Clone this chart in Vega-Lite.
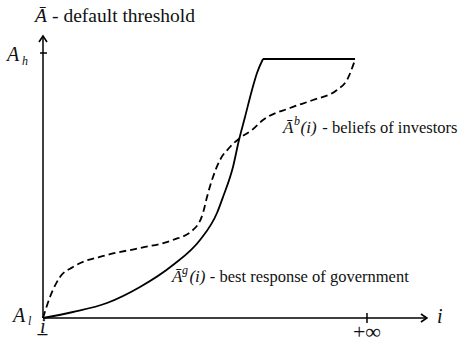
{
  "$schema": "https://vega.github.io/schema/vega-lite/v6.json",
  "width": 459,
  "height": 346,
  "autosize": {"type": "none"},
  "padding": 0,
  "background": "white",
  "config": {
    "view": {"stroke": null}
  },
  "datasets": {
    "government": [
      {"i": 0.0, "A": 0.0, "part": "rise"},
      {"i": 0.0926, "A": 0.0226, "part": "rise"},
      {"i": 0.1975, "A": 0.0566, "part": "rise"},
      {"i": 0.2994, "A": 0.117, "part": "rise"},
      {"i": 0.4012, "A": 0.2, "part": "rise"},
      {"i": 0.4846, "A": 0.2943, "part": "rise"},
      {"i": 0.537, "A": 0.3962, "part": "rise"},
      {"i": 0.5556, "A": 0.4566, "part": "rise"},
      {"i": 0.5864, "A": 0.5698, "part": "rise"},
      {"i": 0.6049, "A": 0.6717, "part": "rise"},
      {"i": 0.6235, "A": 0.7585, "part": "rise"},
      {"i": 0.6451, "A": 0.8604, "part": "rise"},
      {"i": 0.6605, "A": 0.9245, "part": "rise"},
      {"i": 0.679, "A": 0.9774, "part": "rise"},
      {"i": 0.679, "A": 0.9774, "part": "flat"},
      {"i": 0.963, "A": 0.9774, "part": "flat"}
    ],
    "investors": [
      {"i": 0.0, "A": 0.0},
      {"i": 0.0216, "A": 0.0792},
      {"i": 0.0525, "A": 0.1547},
      {"i": 0.0926, "A": 0.1925},
      {"i": 0.1975, "A": 0.2377},
      {"i": 0.2994, "A": 0.2642},
      {"i": 0.4012, "A": 0.2943},
      {"i": 0.463, "A": 0.3321},
      {"i": 0.4938, "A": 0.3962},
      {"i": 0.5062, "A": 0.4566},
      {"i": 0.5247, "A": 0.5321},
      {"i": 0.5463, "A": 0.5962},
      {"i": 0.5772, "A": 0.6453},
      {"i": 0.608, "A": 0.6792},
      {"i": 0.6451, "A": 0.7094},
      {"i": 0.679, "A": 0.7472},
      {"i": 0.7623, "A": 0.7925},
      {"i": 0.8333, "A": 0.8226},
      {"i": 0.9074, "A": 0.8604},
      {"i": 0.9383, "A": 0.8981},
      {"i": 0.963, "A": 0.9736}
    ],
    "axes": [
      {"i": 0.0, "A": 0.0, "i2": 0.0, "A2": 1.064},
      {"i": 0.0, "A": 0.0, "i2": 1.185, "A2": 0.0},
      {"i": -0.0093, "A": 1.0, "i2": 0.0123, "A2": 1.0},
      {"i": 1.0, "A": -0.019, "i2": 1.0, "A2": 0.019}
    ],
    "arrows": [
      {"i": 0.0, "A": 1.064, "dir": 0},
      {"i": 1.185, "A": 0.0, "dir": 90}
    ],
    "titleRoman": [
      {"i": 0.028, "A": 1.117, "t": "- default threshold"}
    ],
    "titleItalic": [
      {"i": -0.0247, "A": 1.117, "t": "Ā"}
    ],
    "roman": [
      {"i": 0.862, "A": 0.698, "t": "- beliefs of investors"},
      {"i": 0.515, "A": 0.136, "t": "- best response of government"}
    ],
    "italic": [
      {"i": 0.741, "A": 0.698, "t": "Ā"},
      {"i": 0.795, "A": 0.698, "t": "(i)"},
      {"i": 0.398, "A": 0.136, "t": "Ā"},
      {"i": 0.452, "A": 0.136, "t": "(i)"}
    ],
    "axisRoman": [
      {"i": 1.0, "A": -0.078, "t": "+∞"}
    ],
    "axisItalic": [
      {"i": -0.111, "A": 0.97, "t": "A"},
      {"i": -0.0926, "A": -0.0151, "t": "A"},
      {"i": -0.0093, "A": -0.0566, "t": "i̲"},
      {"i": 1.216, "A": -0.0189, "t": "i"}
    ],
    "scripts": [
      {"i": -0.0648, "A": 0.955, "t": "h"},
      {"i": -0.0463, "A": -0.0264, "t": "l"},
      {"i": 0.775, "A": 0.728, "t": "b"},
      {"i": 0.429, "A": 0.166, "t": "g"}
    ]
  },
  "encoding": {
    "x": {"field": "i", "type": "quantitative", "axis": null,
          "scale": {"domain": [-0.1327, 1.284], "nice": false, "zero": false}},
    "y": {"field": "A", "type": "quantitative", "axis": null,
          "scale": {"domain": [-0.1057, 1.2], "nice": false, "zero": false}}
  },
  "layer": [
    {
      "data": {"name": "axes"},
      "mark": {"type": "rule", "color": "#000", "strokeWidth": 1.5},
      "encoding": {
        "x2": {"field": "i2"},
        "y2": {"field": "A2"}
      }
    },
    {
      "data": {"name": "arrows"},
      "mark": {"type": "point", "shape": "M-0.8,1.2L0,0L0.8,1.2", "filled": false,
               "color": "#000", "strokeWidth": 1.6, "size": 100, "opacity": 1},
      "encoding": {
        "angle": {"field": "dir", "type": "quantitative", "scale": null}
      }
    },
    {
      "data": {"name": "government"},
      "mark": {"type": "line", "interpolate": "monotone", "color": "#000", "strokeWidth": 1.8},
      "encoding": {
        "detail": {"field": "part"}
      }
    },
    {
      "data": {"name": "investors"},
      "mark": {"type": "line", "interpolate": "monotone", "color": "#000", "strokeWidth": 1.8,
               "strokeDash": [7, 4]},
      "encoding": {}
    },
    {
      "data": {"name": "titleRoman"},
      "mark": {"type": "text", "font": "Liberation Serif", "fontSize": 19.5, "color": "#111",
               "align": "left", "baseline": "alphabetic"},
      "encoding": {"text": {"field": "t"}}
    },
    {
      "data": {"name": "titleItalic"},
      "mark": {"type": "text", "font": "Liberation Serif", "fontSize": 19.5, "fontStyle": "italic",
               "color": "#111", "align": "left", "baseline": "alphabetic"},
      "encoding": {"text": {"field": "t"}}
    },
    {
      "data": {"name": "roman"},
      "mark": {"type": "text", "font": "Liberation Serif", "fontSize": 16.5, "color": "#111",
               "align": "left", "baseline": "alphabetic"},
      "encoding": {"text": {"field": "t"}}
    },
    {
      "data": {"name": "italic"},
      "mark": {"type": "text", "font": "Liberation Serif", "fontSize": 17, "fontStyle": "italic",
               "color": "#111", "align": "left", "baseline": "alphabetic"},
      "encoding": {"text": {"field": "t"}}
    },
    {
      "data": {"name": "axisRoman"},
      "mark": {"type": "text", "font": "Liberation Serif", "fontSize": 22, "color": "#111",
               "align": "center", "baseline": "alphabetic"},
      "encoding": {"text": {"field": "t"}}
    },
    {
      "data": {"name": "axisItalic"},
      "mark": {"type": "text", "font": "Liberation Serif", "fontSize": 20, "fontStyle": "italic",
               "color": "#111", "align": "left", "baseline": "alphabetic"},
      "encoding": {"text": {"field": "t"}}
    },
    {
      "data": {"name": "scripts"},
      "mark": {"type": "text", "font": "Liberation Serif", "fontSize": 12, "fontStyle": "italic",
               "color": "#111", "align": "left", "baseline": "alphabetic"},
      "encoding": {"text": {"field": "t"}}
    }
  ]
}
